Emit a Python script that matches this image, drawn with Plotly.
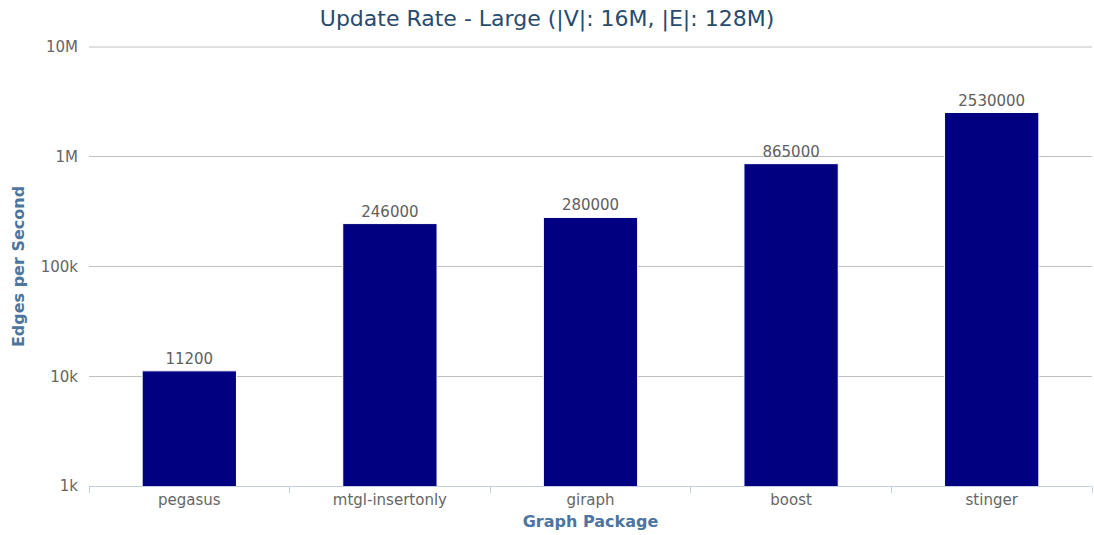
"""Update rate bar chart on a log axis."""

import plotly.graph_objects as go

packages = ["pegasus", "mtgl-insertonly", "giraph", "boost", "stinger"]
edges_per_second = [11200, 246000, 280000, 865000, 2530000]

y_tick_vals = [1e3, 1e4, 1e5, 1e6, 1e7]
y_tick_text = ["1k", "10k", "100k", "1M", "10M"]

FONT = "DejaVu Sans, Lucida Grande, sans-serif"

fig = go.Figure()

fig.add_trace(go.Bar(
    x=packages,
    y=edges_per_second,
    width=0.47,
    marker=dict(color="#000080", line=dict(color="#ffffff", width=1)),
    text=[str(v) for v in edges_per_second],
    textposition="outside",
    textfont=dict(color="#606060", size=15, family=FONT),
    cliponaxis=False,
    showlegend=False,
))

# top gridline (10M) sits on the plot edge, plotly drops it, so draw it
fig.add_shape(
    type="line", xref="paper", yref="paper",
    x0=0, x1=1, y0=1, y1=1,
    line=dict(color="#C0C0C0", width=1),
    layer="below",
)

fig.update_layout(
    width=1094,
    height=535,
    margin=dict(l=89, r=2, t=47, b=49, autoexpand=False),
    paper_bgcolor="white",
    plot_bgcolor="white",
    font=dict(family=FONT, color="#666666", size=15),
    title=dict(
        text="Update Rate - Large (|V|: 16M, |E|: 128M)",
        x=0.5, xanchor="center",
        y=0.966, yanchor="middle",
        font=dict(size=22, color="#274b6d", family=FONT),
    ),
)

fig.update_xaxes(
    type="category",
    showgrid=False,
    showline=True,
    linecolor="#C0D0E0",
    linewidth=1,
    ticks="outside",
    tickson="boundaries",
    ticklen=6,
    tickcolor="#C0D0E0",
    tickfont=dict(size=15, color="#666666"),
    title=dict(text="<b>Graph Package</b>", standoff=7,
               font=dict(size=16, color="#4d759e")),
)

fig.update_yaxes(
    type="log",
    range=[3, 7],
    tickvals=y_tick_vals,
    ticktext=y_tick_text,
    showgrid=True,
    gridcolor="#C0C0C0",
    gridwidth=1,
    zeroline=False,
    showline=False,
    ticks="",
    ticklabelstandoff=10,
    tickfont=dict(size=15, color="#666666"),
    title=dict(text="<b>Edges per Second</b>", standoff=12,
               font=dict(size=16, color="#4d759e")),
)

fig.write_html(
    "out.html",
    config={"displayModeBar": False},
    post_script="document.body.style.margin='0';document.body.style.overflow='hidden';",
)
